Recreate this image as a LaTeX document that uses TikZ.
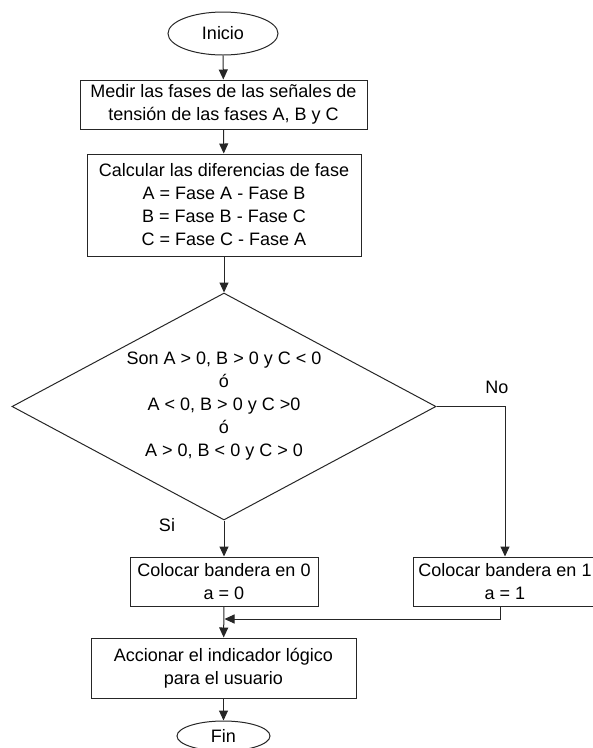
\documentclass[tikz,border=0pt]{standalone}
\usepackage{fontspec}
\setmainfont{Liberation Sans}
\usetikzlibrary{shapes.geometric,arrows.meta}
\begin{document}
\begin{tikzpicture}[x=1pt,y=-1pt,
  every node/.style={font=\fontsize{18}{23}\selectfont, text=black},
  line/.style={draw=black!85, line width=1pt},
  arr/.style={line, -{Triangle[width=9pt,length=10pt]}},
  procbox/.style={line, rectangle, inner sep=0pt, align=center},
  term/.style={line, ellipse, inner sep=0pt},
  decision/.style={line, diamond, aspect=1.87, inner sep=0pt, align=center, minimum width=424pt, minimum height=227pt},
  lbl/.style={inner sep=0pt}
]
\useasboundingbox (0,0) rectangle (593,748);
\node[term, minimum width=110pt, minimum height=43pt] (ini) at (223,33.5) {Inicio};
\node[procbox, minimum width=287pt, minimum height=49pt] (b1) at (223.5,104.5) {Medir las fases de las señales de\\tensión de las fases A, B y C};
\node[procbox, minimum width=274pt, minimum height=102pt] (b2) at (224,205) {Calcular las diferencias de fase\\A = Fase A - Fase B\\B = Fase B - Fase C\\C = Fase C - Fase A};
\node[decision] (d) at (224,406.5) {Son A > 0, B > 0 y C < 0\\ó\\A < 0, B > 0 y C >0\\ó\\A > 0, B < 0 y C > 0};
\node[procbox, minimum width=188pt, minimum height=49pt] (b3) at (224,581.5) {Colocar bandera en 0\\a = 0};
\node[procbox, minimum width=184pt, minimum height=49pt] (b4) at (505,581.5) {Colocar bandera en 1\\a = 1};
\node[procbox, minimum width=265pt, minimum height=60pt] (b5) at (223.5,668) {Accionar el indicador lógico\\para el usuario};
\node[term, minimum width=93pt, minimum height=30pt] (fin) at (223.5,736) {Fin};
\node[lbl] (si) at (167,525) {Si};
\node[lbl] (no) at (497,387) {No};
\coordinate (merge) at (224.5,619);
\coordinate (b4out) at (500,606);
\draw[arr] (ini) -- (b1);
\draw[arr] (b1) -- (b2);
\draw[arr] (b2) -- (d.north);
\draw[arr] (d.south) -- (b3);
\draw[arr] (d.east) -| (b4.north);
\draw[arr] (b4out) |- (merge);
\draw[arr] (b3) -- (b5);
\draw[arr] (b5) -- (fin);
\end{tikzpicture}
\end{document}
